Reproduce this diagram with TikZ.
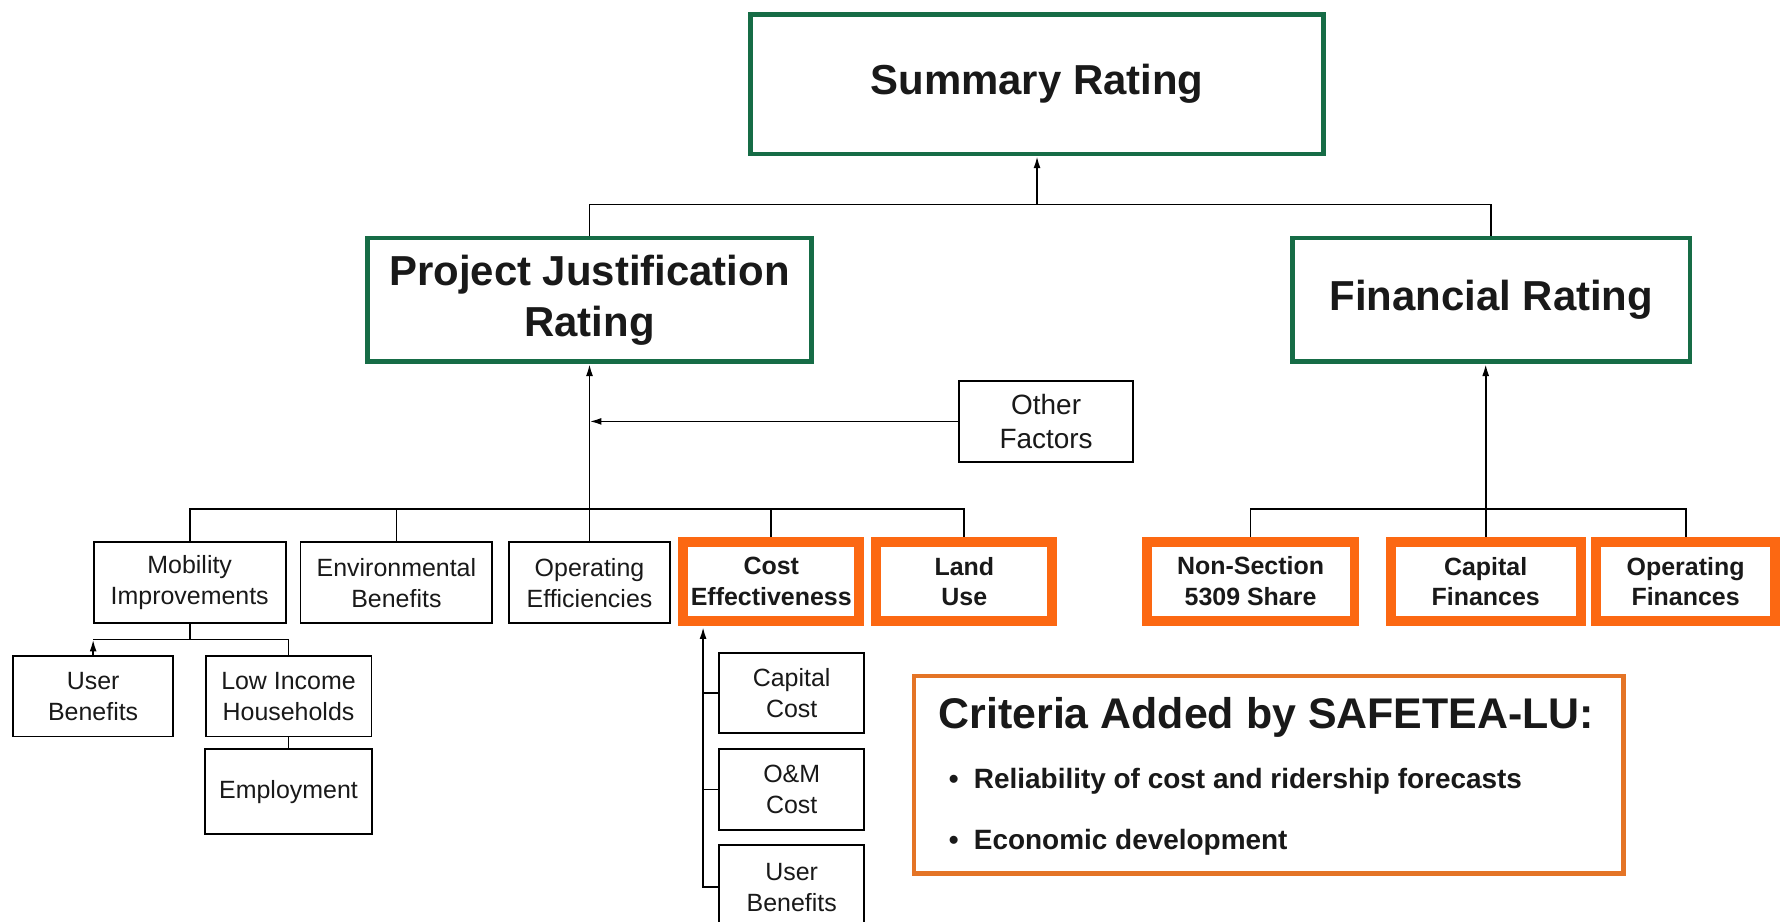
\documentclass[tikz,border=0pt]{standalone}
\usepackage{fontspec}
\setmainfont{Liberation Sans}
\usepackage{xcolor}
\usepackage{tikz}
\usetikzlibrary{arrows.meta}

\definecolor{ratinggreen}{RGB}{22,108,70}
\definecolor{neworange}{RGB}{252,104,18}
\definecolor{critorange}{RGB}{228,116,38}

\begin{document}
\begin{tikzpicture}[
	x=0.02cm, y=-0.02cm,
	every node/.style = {shape=rectangle, align=center, inner sep=0pt, text=black!90},
	rating/.style = {draw=ratinggreen, line width=2.3pt,
		font=\fontsize{21pt}{25.6pt}\selectfont\bfseries},
	factor/.style = {draw, line width=0.9pt, minimum height=1.42cm,
		font=\fontsize{12.5pt}{15.5pt}\selectfont},
	added/.style = {draw=neworange, line width=5pt, minimum width=3.1cm, minimum height=1.4cm,
		font=\fontsize{12.5pt}{15.5pt}\selectfont\bfseries},
	link/.style = {draw, line width=0.9pt},
	feed/.style = {link, -{Latex[length=6pt,width=3.5pt]}}
]
\clip (0,0) rectangle (1568,811);
\fill[white] (0,0) rectangle (1568,811);

% ratings
\node[rating, minimum width=10.1cm, minimum height=2.46cm] (sum) at (913,74) {Summary Rating};
\node[rating, minimum width=7.82cm, minimum height=2.18cm] (pj) at (519,264) {Project Justification\\Rating};
\node[rating, minimum width=7.0cm, minimum height=2.18cm] (fin) at (1313,264) {Financial Rating};

% project justification criteria
\node[factor, minimum width=3.06cm, font=\fontsize{14pt}{17pt}\selectfont] (other) at (921,371) {Other\\Factors};
\node[factor, minimum width=3.38cm] (mob) at (167,513) {Mobility\\Improvements};
\node[factor, minimum width=3.38cm] (env) at (349,513) {Environmental\\Benefits};
\node[factor, minimum width=2.84cm] (opeff) at (519,513) {Operating\\Efficiencies};
\node[added] (cost) at (679,512) {Cost\\Effectiveness};
\node[added] (land) at (849,512) {Land\\Use};

% financial criteria
\node[added, minimum width=3.66cm] (share) at (1101,512) {Non-Section\\5309 Share};
\node[added, minimum width=3.34cm] (capfin) at (1308,512) {Capital\\Finances};
\node[added, minimum width=3.16cm] (opfin) at (1484,512) {Operating\\Finances};

% sub measures
\node[factor, minimum width=2.82cm] (userben) at (82,613) {User\\Benefits};
\node[factor, minimum width=2.92cm] (lowinc) at (254,613) {Low Income\\Households};
\node[factor, minimum width=2.94cm, minimum height=1.5cm] (employ) at (254,697) {Employment};
\node[factor, minimum width=2.56cm, minimum height=1.4cm] (capcost) at (697,610) {Capital\\Cost};
\node[factor, minimum width=2.56cm] (omcost) at (697,695) {O\&M\\Cost};
\node[factor, minimum width=2.56cm, minimum height=1.48cm] (usercost) at (697,781) {User\\Benefits};

% SAFETEA-LU box
\node[draw=critorange, line width=2.3pt, minimum width=12.5cm, minimum height=3.48cm] (crit) at (1117,682) {};
\node[anchor=base west, font=\fontsize{21.5pt}{25pt}\selectfont\bfseries] (crittitle) at (826,641) {Criteria Added by SAFETEA-LU:};
\node[anchor=base west, font=\fontsize{14pt}{17pt}\selectfont\bfseries] (crit1) at (835,694) {\textbullet\hspace{0.27cm}Reliability of cost and ridership forecasts};
\node[anchor=base west, font=\fontsize{14pt}{17pt}\selectfont\bfseries] (crit2) at (835,748) {\textbullet\hspace{0.27cm}Economic development};

% junctions
\coordinate (jsum) at (913,180);
\coordinate (jpj) at (519,448);
\coordinate (jfin) at (1308,448);
\coordinate (jmob) at (167,563);
\coordinate (jcost) at (619,552);

\draw[link] (pj.north) |- (jsum) -| (fin.north);
\draw[feed] (jsum) -- (sum.south);

\draw[link] (mob.north) |- (jpj) -| (land.north);
\draw[link] (env.north) -- (env.north |- jpj);
\draw[link] (cost.north) -- (cost.north |- jpj);
\draw[feed] (opeff.north) -- (pj.south);
\draw[feed] (other.west) -- (other.west -| pj.south);

\draw[link] (share.north) |- (jfin) -| (opfin.north);
\draw[feed] (capfin.north) -- (capfin.north |- fin.south);

\draw[link] (mob.south) -- (jmob);
\draw[feed] (userben.north) -- (userben.north |- jmob);
\draw[link] (userben.north |- jmob) -| (lowinc.north);
\draw[link] (lowinc.south) -- (employ.north);

\draw[feed] (usercost.west) -| (jcost);
\draw[link] (capcost.west) -- (capcost.west -| jcost);
\draw[link] (omcost.west) -- (omcost.west -| jcost);
\end{tikzpicture}
\end{document}
